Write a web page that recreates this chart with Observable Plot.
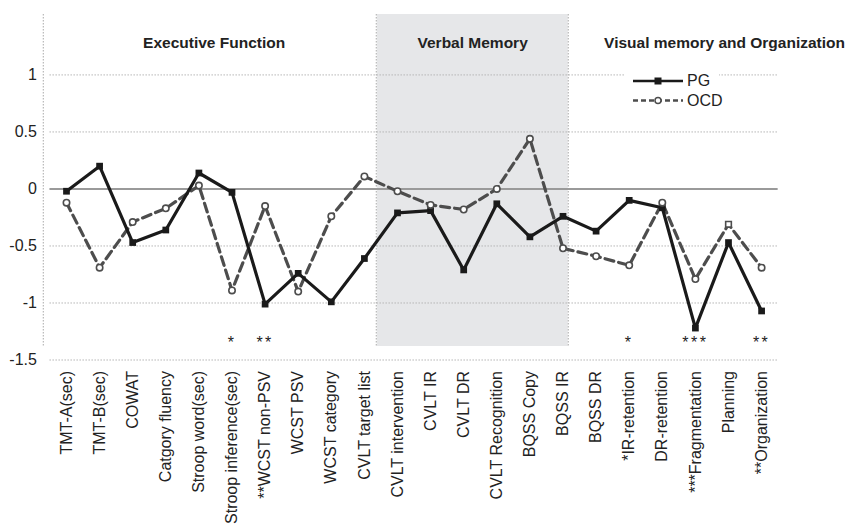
<!DOCTYPE html>
<html>
<head>
<meta charset="utf-8">
<script src="https://cdn.jsdelivr.net/npm/d3@7"></script>
<script src="https://cdn.jsdelivr.net/npm/@observablehq/plot@0.6"></script>
<style>
  html, body { margin: 0; padding: 0; background: #fff; }
  #chart { width: 856px; height: 524px; }
</style>
</head>
<body>
<div id="chart"></div>
<script>
const categories = [
  "TMT-A(sec)", "TMT-B(sec)", "COWAT", "Catgory fluency", "Stroop word(sec)",
  "Stroop inference(sec)", "**WCST non-PSV", "WCST PSV", "WCST category",
  "CVLT target list", "CVLT intervention", "CVLT IR", "CVLT DR", "CVLT Recognition",
  "BQSS Copy", "BQSS IR", "BQSS DR", "*IR-retention", "DR-retention",
  "***Fragmentation", "Planning", "**Organization"
];
const pgValues = [
  -0.02, 0.20, -0.47, -0.36, 0.14, -0.03, -1.01, -0.74, -0.99, -0.61,
  -0.21, -0.19, -0.71, -0.13, -0.42, -0.24, -0.37, -0.10, -0.165, -1.22, -0.47, -1.07
];
const ocdValues = [
  -0.12, -0.69, -0.29, -0.17, 0.03, -0.89, -0.15, -0.90, -0.24, 0.11,
  -0.02, -0.14, -0.18, 0.00, 0.44, -0.52, -0.59, -0.67, -0.12, -0.79, -0.31, -0.69
];
const ocdSymbols = [
  "circle","circle","circle","circle","circle","circle","circle","circle","circle","circle",
  "circle","circle","circle","circle","circle","circle","circle","circle","circle","circle","square","circle"
];
const significance = [
  {index: 5, stars: "*"}, {index: 6, stars: "**"}, {index: 17, stars: "*"},
  {index: 19, stars: "***"}, {index: 21, stars: "**"}
];
const yTicks = [-1.5, -1, -0.5, 0, 0.5, 1];
const sectionNames = ["Executive Function", "Verbal Memory", "Visual memory and Organization"];
const sectionCenters = [4.46, 12.27, 19.88];
const sectionDividers = [-0.7, 9.36, 15.16];
const shadedSection = {from: 9.39, to: 15.16};

const rows = categories.map((c, i) => ({i, c, pg: pgValues[i], ocd: ocdValues[i], sym: ocdSymbols[i]}));
const sections = sectionNames.map((name, k) => ({name, x: sectionCenters[k]}));

const font = "'Liberation Sans', Arial, Helvetica, sans-serif";

const svg = Plot.plot({
  width: 856,
  height: 524,
  marginLeft: 49.45,
  marginRight: 78.35,
  marginTop: 14,
  marginBottom: 164.5,
  style: {fontFamily: font, fontSize: "16px", color: "#222", background: "#fff", overflow: "visible"},
  x: {domain: [-0.5, 21.5], axis: null},
  y: {domain: [-1.5, 1.53], axis: null},
  symbol: {type: "identity"},
  marks: [
    Plot.rect([shadedSection], {x1: "from", x2: "to", fill: "#e6e7e9", insetBottom: 13.5}),
    Plot.ruleY(yTicks.filter(d => d !== 0), {stroke: "#b5b5b5", strokeWidth: 1, strokeDasharray: "1.5,1.5"}),
    Plot.ruleX(sectionDividers, {stroke: "#b8b8b8", strokeWidth: 1.2, strokeDasharray: "1.5,1.5", insetBottom: 14}),
    Plot.ruleY([0], {stroke: "#9a9a9a", strokeWidth: 2}),
    Plot.axisY({ticks: yTicks, tickSize: 0, tickPadding: 13, tickFormat: d => String(d), fontSize: 16, fill: "#222"}),
    Plot.axisX({ticks: d3.range(categories.length), tickFormat: i => categories[i], tickRotate: -90, tickSize: 0, tickPadding: 11, fontSize: 16, fill: "#222"}),
    Plot.line(rows, {x: "i", y: "ocd", stroke: "#4d4d4d", strokeWidth: 3.2, strokeDasharray: "9,5"}),
    Plot.line(rows, {x: "i", y: "pg", stroke: "#1a1a1a", strokeWidth: 3.2}),
    Plot.dot(rows, {x: "i", y: "pg", symbol: "square", r: 3.8, fill: "#1a1a1a", stroke: "none"}),
    Plot.dot(rows, {x: "i", y: "ocd", symbol: "sym", r: 3.2, fill: "#fff", stroke: "#4d4d4d", strokeWidth: 1.6}),
    Plot.text(significance, {x: "index", text: "stars", frameAnchor: "bottom", dy: -12, fontSize: 16, fill: "#222", style: "letter-spacing:2px"}),
    Plot.text(sections, {x: "x", text: "name", frameAnchor: "top", dy: 22, fontSize: 15.5, fontWeight: "bold", fill: "#222"})
  ]
});

// letter spacing for significance stars
d3.select(svg).selectAll("text").filter(function() { return /^\*+$/.test(this.textContent); })
  .attr("letter-spacing", "2.5px");

// Legend (inside plot, upper right)
const g = d3.select(svg).append("g").attr("font-family", font).attr("font-size", 16).attr("fill", "#222").attr("text-anchor", "start");
g.append("rect").attr("x", 624).attr("y", 64).attr("width", 95).attr("height", 46).attr("fill", "#fff");
g.append("line").attr("x1", 633).attr("x2", 683).attr("y1", 81).attr("y2", 81).attr("stroke", "#1a1a1a").attr("stroke-width", 2.5);
g.append("rect").attr("x", 654.5).attr("y", 77.5).attr("width", 7).attr("height", 7).attr("fill", "#1a1a1a");
g.append("text").attr("x", 687).attr("y", 80).attr("dy", "0.35em").text("PG");
g.append("line").attr("x1", 633).attr("x2", 683).attr("y1", 100.5).attr("y2", 100.5).attr("stroke", "#4d4d4d").attr("stroke-width", 2.5).attr("stroke-dasharray", "5,3");
g.append("circle").attr("cx", 658).attr("cy", 100.5).attr("r", 3).attr("fill", "#fff").attr("stroke", "#4d4d4d").attr("stroke-width", 1.5);
g.append("text").attr("x", 687).attr("y", 100).attr("dy", "0.35em").text("OCD");

document.getElementById("chart").appendChild(svg);
</script>
</body>
</html>
